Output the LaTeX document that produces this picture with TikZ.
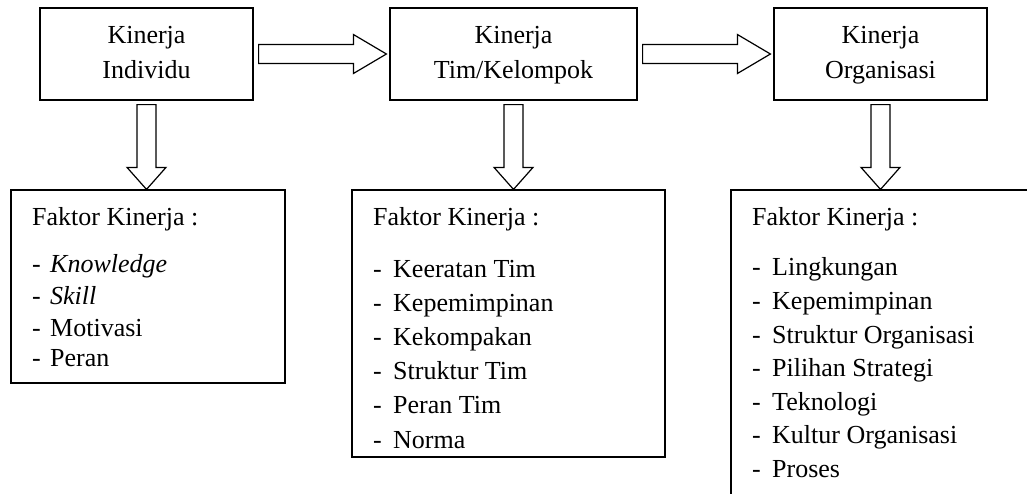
\documentclass[tikz,border=0pt]{standalone}
\usepackage{fontspec}
\setmainfont{Liberation Serif}
\usetikzlibrary{calc}
\begin{document}
\begin{tikzpicture}[x=1pt,y=-1pt,
  box/.style={draw, line width=1.2pt, inner sep=0pt},
  txt/.style={inner sep=0pt, font=\fontsize{26}{35}\selectfont},
  blk/.style={draw, line width=1.2pt, fill=white, line join=miter}]
\useasboundingbox (0,0) rectangle (1027,493);
\clip (0,0) rectangle (1027,493);
% top boxes
\node[box, minimum width=213pt, minimum height=92pt] (b1) at (146.5,54) {};
\node[box, minimum width=247pt, minimum height=92pt] (b2) at (513.5,54) {};
\node[box, minimum width=213pt, minimum height=92pt] (b3) at (880.5,54) {};
\node[txt, anchor=base] (t1a) at (146.5,43) {Kinerja};
\node[txt, anchor=base] (t1b) at (146.5,78) {Individu};
\node[txt, anchor=base] (t2a) at (513.5,43) {Kinerja};
\node[txt, anchor=base] (t2b) at (513.5,78) {Tim/Kelompok};
\node[txt, anchor=base] (t3a) at (880.5,43) {Kinerja};
\node[txt, anchor=base] (t3b) at (880.5,78) {Organisasi};
% bottom boxes
\node[box, minimum width=274pt, minimum height=193pt] (f1) at (148,286.5) {};
\node[box, minimum width=313pt, minimum height=267pt] (f2) at (508.5,323.5) {};
\node[box, minimum width=340pt, minimum height=340pt] (f3) at (901,360) {};
% horizontal block arrows
\foreach \a/\b in {b1/b2, b2/b3}{
  \coordinate (s) at ($(\a.east)+(5,0)$);
  \coordinate (e) at ($(\b.west)+(-3,0)$);
  \draw[blk] ($(s)+(0,-9.5)$) -- ($(e)+(-33,-9.5)$) -- ($(e)+(-33,-19.5)$) -- (e)
    -- ($(e)+(-33,19.5)$) -- ($(e)+(-33,9.5)$) -- ($(s)+(0,9.5)$) -- cycle;
}
% vertical block arrows
\foreach \a/\b in {b1/f1, b2/f2, b3/f3}{
  \coordinate (s) at ($(\a.south)+(0,4)$);
  \coordinate (e) at (\a.south |- \b.north);
  \draw[blk] ($(s)+(-9.5,0)$) -- ($(e)+(-9.5,-22)$) -- ($(e)+(-19.5,-22)$) -- (e)
    -- ($(e)+(19.5,-22)$) -- ($(e)+(9.5,-22)$) -- ($(s)+(9.5,0)$) -- cycle;
}
% box 1 text
\node[txt, anchor=base west] (h1) at (32,225) {Faktor Kinerja :};
\foreach \y/\t [count=\i] in {272/\textit{Knowledge}, 304/\textit{Skill}, 336/Motivasi, 366/Peran}{
  \node[txt, anchor=base west] (d1\i) at (32,\y) {-};
  \node[txt, anchor=base west] (l1\i) at (50,\y) {\t};
}
% box 2 text
\node[txt, anchor=base west] (h2) at (373,225) {Faktor Kinerja :};
\foreach \y/\t [count=\i] in {277/Keeratan Tim, 311/Kepemimpinan, 345/Kekompakan, 379/Struktur Tim, 413/Peran Tim, 448/Norma}{
  \node[txt, anchor=base west] (d2\i) at (373,\y) {-};
  \node[txt, anchor=base west] (l2\i) at (393,\y) {\t};
}
% box 3 text
\node[txt, anchor=base west] (h3) at (752,225) {Faktor Kinerja :};
\foreach \y/\t [count=\i] in {275/Lingkungan, 309/Kepemimpinan, 343/Struktur Organisasi, 376/Pilihan Strategi, 410/Teknologi, 443/Kultur Organisasi, 477/Proses}{
  \node[txt, anchor=base west] (d3\i) at (752,\y) {-};
  \node[txt, anchor=base west] (l3\i) at (772,\y) {\t};
}
\end{tikzpicture}
\end{document}
